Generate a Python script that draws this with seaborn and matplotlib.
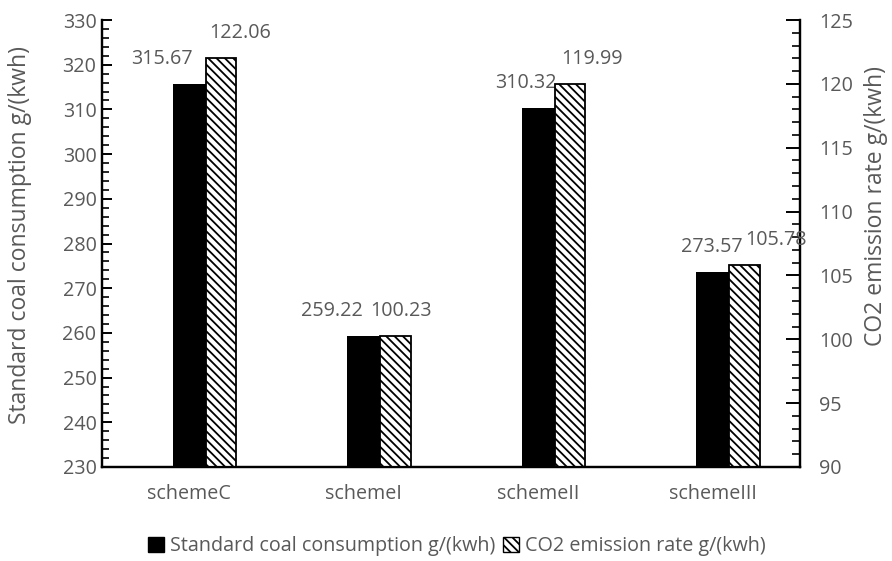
import matplotlib
matplotlib.use("Agg")
import matplotlib.pyplot as plt
from matplotlib.patches import Patch
from matplotlib.ticker import MultipleLocator
import seaborn as sns
import pandas as pd

categories = ["schemeC", "schemeI", "schemeII", "schemeIII"]
coal = [315.67, 259.22, 310.32, 273.57]
co2 = [122.06, 100.23, 119.99, 105.78]
coal_label = "Standard coal consumption g/(kwh)"
co2_label = "CO2 emission rate g/(kwh)"

sns.set_theme(style="white")
plt.rcParams["font.family"] = ["Open Sans", "DejaVu Sans"]
plt.rcParams["hatch.linewidth"] = 1.3
plt.rcParams["hatch.color"] = "black"

TEXT = "#595959"
FS = 14.2
FS_AX = 16.5

df = pd.DataFrame({"scheme": categories, "coal": coal, "co2": co2})

fig = plt.figure(figsize=(8.92, 5.61), dpi=100)
ax = fig.add_axes([0.1143, 0.1676, 0.7826, 0.7967])
ax2 = ax.twinx()

# primary series: solid black bars centred on each category
w1 = 0.19
w2 = 0.175
sns.barplot(data=df, x="scheme", y="coal", ax=ax, color="black",
            width=w1, saturation=1, edgecolor="black", linewidth=0)
# secondary series: hatched bars placed just right of the black bars
sns.barplot(data=df, x="scheme", y="co2", ax=ax2, color="white",
            width=w2, saturation=1, edgecolor="black", linewidth=1.3)
for p in ax2.patches:
    p.set_hatch("\\\\\\\\")
    p.set_x(p.get_x() + w1 / 2 + w2 / 2)

ax.set_xlim(-0.5, len(categories) - 0.5)
ax2.set_xlim(-0.5, len(categories) - 0.5)
ax.set_ylim(230, 330)
ax2.set_ylim(90, 125)
ax.yaxis.set_major_locator(MultipleLocator(10))
ax.yaxis.set_minor_locator(MultipleLocator(2))
ax2.yaxis.set_major_locator(MultipleLocator(5))
ax2.yaxis.set_minor_locator(MultipleLocator(1))

for a in (ax, ax2):
    for s in a.spines.values():
        s.set_color("black")
        s.set_linewidth(1.6)
    a.spines["top"].set_visible(False)
    a.set_xlabel("")

ax.tick_params(axis="y", which="major", direction="in", length=7, width=1.4,
               color="black", labelsize=FS, labelcolor=TEXT, pad=4)
ax.tick_params(axis="y", which="minor", direction="in", length=5, width=1.2,
               color="black")
ax2.tick_params(axis="y", which="major", direction="in", length=10, width=1.4,
                color="black", labelsize=FS, labelcolor=TEXT, pad=14)
ax2.tick_params(axis="y", which="minor", direction="in", length=6, width=1.2,
                color="black")
ax.tick_params(axis="x", length=0, labelsize=FS, labelcolor=TEXT, pad=12)
ax2.tick_params(axis="x", length=0)

ax.set_ylabel(coal_label, fontsize=FS_AX, color=TEXT)
ax2.set_ylabel(co2_label, fontsize=FS_AX, color=TEXT, rotation=90)
ax.yaxis.set_label_coords(-0.100, 0.519)
ax2.yaxis.set_label_coords(1.092, 0.585)

# value labels (offsets in pixels from the top centre of each bar)
coal_off = [(-27, 25), (-32, 25), (-12, 25), (-1, 25)]
co2_off = [(19, 25), (5, 25), (22, 25), (31, 25)]
k = 72 / fig.dpi
for i, v in enumerate(coal):
    dx, dy = coal_off[i]
    ax.annotate(f"{v:.2f}", xy=(i, v), xytext=(dx * k, dy * k),
                textcoords="offset points", ha="center", va="center",
                fontsize=FS, color=TEXT)
for i, v in enumerate(co2):
    dx, dy = co2_off[i]
    xc = i + w1 / 2 + w2 / 2
    ax2.annotate(f"{v:.2f}", xy=(xc, v), xytext=(dx * k, dy * k),
                 textcoords="offset points", ha="center", va="center",
                 fontsize=FS, color=TEXT)

handles = [Patch(facecolor="black", edgecolor="black", label=coal_label),
           Patch(facecolor="white", edgecolor="black", hatch="\\\\\\\\",
                 label=co2_label)]
leg = fig.legend(handles=handles, loc="center", bbox_to_anchor=(0.512, 0.026),
                 ncol=2, frameon=False, fontsize=FS, handlelength=0.8,
                 handleheight=0.8, handletextpad=0.3, columnspacing=0.4)
for t in leg.get_texts():
    t.set_color(TEXT)

fig.savefig("out.png", dpi=100)
